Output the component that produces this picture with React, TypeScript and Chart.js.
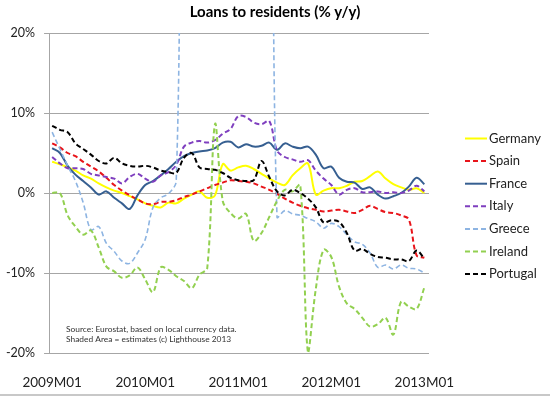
import { useEffect, useRef } from "react";
import { Chart, registerables } from "chart.js";

Chart.register(...registerables);

const monthLabels = [
  "2009M01", "2009M02", "2009M03", "2009M04", "2009M05", "2009M06", "2009M07", "2009M08", "2009M09", "2009M10", "2009M11", "2009M12",
  "2010M01", "2010M02", "2010M03", "2010M04", "2010M05", "2010M06", "2010M07", "2010M08", "2010M09", "2010M10", "2010M11", "2010M12",
  "2011M01", "2011M02", "2011M03", "2011M04", "2011M05", "2011M06", "2011M07", "2011M08", "2011M09", "2011M10", "2011M11", "2011M12",
  "2012M01", "2012M02", "2012M03", "2012M04", "2012M05", "2012M06", "2012M07", "2012M08", "2012M09", "2012M10", "2012M11", "2012M12",
  "2013M01",
];
const labelledMonths = [0, 12, 24, 36, 48];

const germany = [3.9, 3.6, 3.2, 2.8, 2.2, 1.8, 1.2, 0.7, 0.3, 0.0, -0.4, -0.8, -1.3, -1.6, -1.8, -1.2, -1.3, -0.7, -0.2, 0.2, -0.6, -0.3, 3.6, 2.8, 3.2, 3.4, 3.0, 2.4, 1.8, 1.3, 1.0, 2.2, 3.1, 3.7, -0.2, 0.3, 0.6, 0.6, 0.9, 1.4, 1.5, 2.1, 2.7, 1.8, 1.1, 0.7, 0.4, 0.6, 0.0];
const spain = [6.2, 5.7, 5.0, 4.6, 3.9, 3.3, 2.7, 1.9, 1.0, 0.3, -0.3, -0.8, -1.3, -1.4, -1.1, -1.1, -0.9, -0.5, -0.2, 0.2, 0.6, 1.0, 1.3, 1.6, 1.5, 1.4, 1.2, 0.8, 0.4, -0.1, -0.7, -1.2, -1.6, -1.9, -2.1, -2.3, -2.2, -2.1, -2.3, -2.5, -2.1, -1.6, -2.0, -2.4, -2.5, -2.8, -3.3, -7.8, -8.1];
const france = [5.6, 5.0, 3.4, 2.3, 1.5, 0.7, -0.2, 0.2, -0.6, -1.3, -2.0, -0.3, 1.0, 1.5, 2.2, 3.0, 3.9, 4.6, 5.0, 5.2, 5.3, 5.6, 6.3, 6.4, 5.7, 6.1, 5.8, 5.9, 6.3, 5.4, 6.2, 5.8, 5.6, 5.8, 4.8, 3.1, 3.3, 1.9, 1.4, 1.3, 0.5, 0.7, -0.2, -0.7, -0.4, 0.0, 0.8, 1.9, 1.1];
const italy = [4.5, 3.7, 3.1, 3.1, 3.0, 2.4, 2.2, 2.0, 1.8, 1.2, 2.0, 2.4, 1.8, 1.4, 2.2, 2.6, 3.5, 5.8, 6.3, 6.5, 6.3, 6.6, 7.4, 8.0, 9.6, 9.5, 8.8, 8.6, 9.0, 5.3, 4.5, 4.2, 3.9, 4.1, 2.8, 1.8, 1.0, -0.2, 0.4, 0.6, 0.1, 0.1, 0.2, 0.0, 0.1, 0.0, 0.3, 0.9, 0.2];
const greece = [7.6, 5.5, 3.4, 1.5, -1.2, -4.6, -4.2, -6.3, -7.3, -8.5, -8.8, -7.5, -5.8, -1.8, -0.6, -0.1, 1.5, 60, 60, 60, 60, 60, 60, 60, 60, 60, 60, 60, 60, -3.0, -2.2, -2.6, -2.8, -3.2, -3.6, -4.4, -3.8, -4.2, -5.2, -6.1, -6.4, -7.5, -9.3, -9.0, -9.5, -9.0, -9.4, -9.5, -10.0];
const ireland = [0.0, 0.0, -2.8, -4.2, -5.2, -4.7, -6.8, -9.2, -9.8, -10.6, -10.3, -9.3, -10.8, -12.4, -9.3, -9.6, -10.4, -11.0, -11.9, -10.2, -9.4, 8.6, -1.0, -2.5, -3.2, -2.6, -6.0, -5.0, -3.0, -1.0, 0.4, 0.2, 1.0, -20.0, -12.0, -7.1, -8.0, -11.7, -13.8, -14.5, -15.6, -16.7, -16.4, -15.6, -17.7, -13.6, -14.2, -14.5, -11.8];
const portugal = [8.4, 7.9, 7.6, 6.2, 5.5, 4.8, 4.0, 3.7, 4.4, 3.7, 3.4, 3.3, 3.4, 3.2, 2.8, 2.6, 2.5, 4.4, 5.0, 3.2, 3.0, 2.9, 2.5, 1.9, 1.6, 1.5, 1.6, 4.0, 2.0, 0.2, -0.3, 0.4, 0.0, -0.7, -1.8, -3.7, -3.4, -3.6, -5.0, -7.2, -7.0, -7.6, -8.0, -8.1, -8.3, -8.3, -8.5, -7.2, -8.2];

const seriesNames = ["Germany", "Spain", "France", "Italy", "Greece", "Ireland", "Portugal"];
const seriesValues = [germany, spain, france, italy, greece, ireland, portugal];
const seriesColors = ["#ffff00", "#e8141a", "#365f91", "#7f3fbf", "#8db4e2", "#92d050", "#000000"];
const seriesDashed = [false, true, false, true, true, true, true];

const titleText = "Loans to residents (% y/y)";
const noteLines = [
  "Source: Eurostat, based on local currency data.",
  "Shaded Area = estimates (c) Lighthouse 2013",
];

const FONT = "Lato, 'Open Sans', 'DejaVu Sans', sans-serif";

const chartTitle = {
  id: "chartTitle",
  afterDraw(chart: any) {
    const { ctx } = chart;
    ctx.save();
    ctx.font = `bold 15px ${FONT}`;
    ctx.fillStyle = "#000";
    ctx.textAlign = "center";
    ctx.textBaseline = "middle";
    ctx.fillText(titleText, chart.width / 2, 12);
    ctx.restore();
  },
};

const sideLegend = {
  id: "sideLegend",
  afterDraw(chart: any) {
    const { ctx, chartArea } = chart;
    ctx.save();
    const x0 = chartArea.right + 36;
    const lineLen = 22;
    const y0 = chartArea.top + 105.5;
    const rowH = 22.6;
    ctx.font = `13px ${FONT}`;
    ctx.textBaseline = "middle";
    ctx.textAlign = "left";
    chart.data.datasets.forEach((ds: any, i: number) => {
      const y = y0 + i * rowH;
      ctx.strokeStyle = ds.borderColor;
      ctx.lineWidth = 2;
      ctx.setLineDash(ds.borderDash || []);
      ctx.beginPath();
      ctx.moveTo(x0, y);
      ctx.lineTo(x0 + lineLen, y);
      ctx.stroke();
      ctx.setLineDash([]);
      ctx.fillStyle = "#222";
      ctx.fillText(ds.label, x0 + lineLen + 2, y);
    });
    ctx.restore();
  },
};

const sourceNote = {
  id: "sourceNote",
  afterDraw(chart: any) {
    const { ctx, chartArea } = chart;
    ctx.save();
    ctx.font = `8.4px ${FONT}`;
    ctx.fillStyle = "#333";
    ctx.textBaseline = "middle";
    ctx.textAlign = "left";
    noteLines.forEach((t, i) => {
      ctx.fillText(t, chartArea.left + 17, chartArea.bottom - 24 + i * 10);
    });
    ctx.restore();
  },
};

const frameLine = {
  id: "frameLine",
  afterDraw(chart: any) {
    const { ctx } = chart;
    ctx.save();
    ctx.strokeStyle = "#c8c8c8";
    ctx.lineWidth = 2;
    ctx.beginPath();
    ctx.moveTo(0, chart.height - 1);
    ctx.lineTo(chart.width, chart.height - 1);
    ctx.stroke();
    ctx.restore();
  },
};

export default function App() {
  const canvasRef = useRef<HTMLCanvasElement | null>(null);

  useEffect(() => {
    if (!canvasRef.current) return;
    const datasets = seriesNames.map((name, k) => ({
      label: name,
      data: seriesValues[k].map((v, i) => ({ x: i, y: v })),
      borderColor: seriesColors[k],
      backgroundColor: seriesColors[k],
      borderWidth: name === "Greece" ? 1.6 : 2,
      borderDash: seriesDashed[k] ? [5, 3] : [],
      pointRadius: 0,
      tension: 0.35,
      fill: false,
      order: seriesNames.length - 1 - k,
    }));

    const chart = new Chart(canvasRef.current, {
      type: "line",
      data: { datasets },
      plugins: [chartTitle, sideLegend, sourceNote, frameLine],
      options: {
        animation: false,
        responsive: true,
        maintainAspectRatio: false,
        layout: { padding: { left: 0, right: 121, top: 33, bottom: 0 } },
        plugins: {
          legend: { display: false },
          tooltip: { enabled: false },
          title: { display: false },
        },
        scales: {
          x: {
            type: "linear",
            min: -0.4,
            max: 48.6,
            grid: { display: false, drawTicks: false },
            border: { display: false },
            afterBuildTicks: (scale: any) => {
              scale.ticks = labelledMonths.map((v) => ({ value: v }));
            },
            afterFit: (scale: any) => {
              scale.height = 43;
            },
            ticks: {
              autoSkip: false,
              maxRotation: 0,
              padding: 22,
              color: "#222",
              font: { family: FONT, size: 13.5 },
              callback: (value: any) => monthLabels[Number(value)] ?? "",
            },
          },
          y: {
            min: -20,
            max: 20,
            afterFit: (scale: any) => {
              scale.width = 49;
            },
            grid: { color: "#a6a6a6", lineWidth: 1, tickLength: 5, drawTicks: true },
            border: { display: true, color: "#a6a6a6" },
            ticks: {
              stepSize: 10,
              padding: 9,
              color: "#222",
              font: { family: FONT, size: 12.5 },
              callback: (value: any) => `${value}%`,
            },
          },
        },
      },
    });
    return () => chart.destroy();
  }, []);

  return (
    <div style={{ position: "fixed", left: 0, top: 0, width: 550, height: 396, background: "#fff" }}>
      <canvas ref={canvasRef} />
    </div>
  );
}
